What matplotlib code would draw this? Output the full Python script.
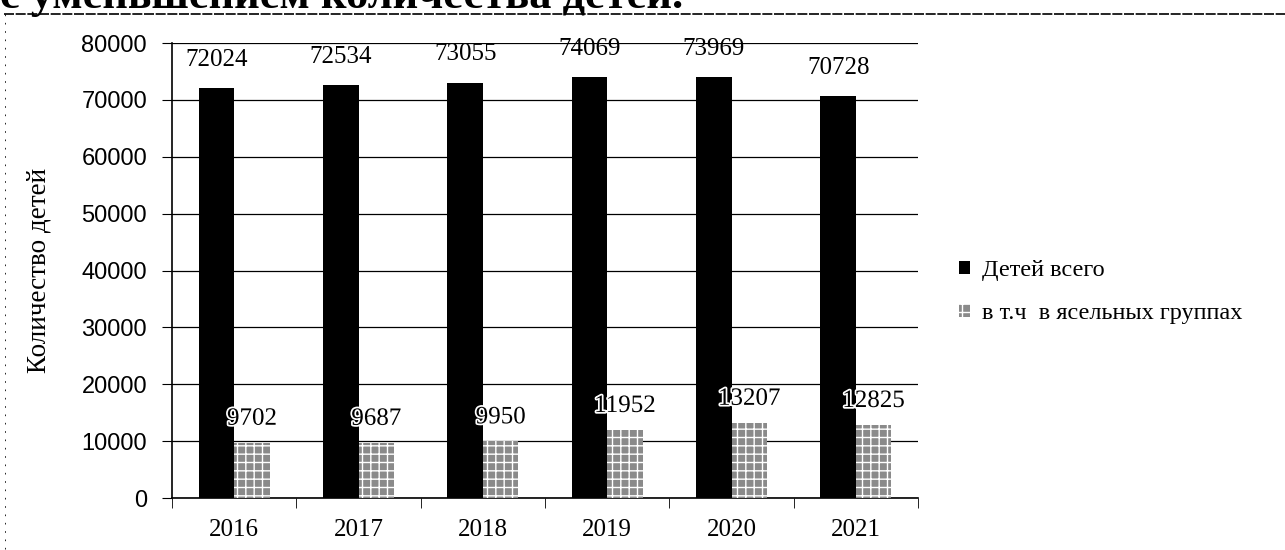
import numpy as np
import matplotlib
matplotlib.use("Agg")
import matplotlib.pyplot as plt
import matplotlib.patheffects as pe
from matplotlib.lines import Line2D

years = ["2016", "2017", "2018", "2019", "2020", "2021"]
total_children = [72024, 72534, 73055, 74069, 73969, 70728]
nursery_children = [9702, 9687, 9950, 11952, 13207, 12825]
series_names = ["Детей всего", "в т.ч  в ясельных группах"]

plt.rcParams["font.family"] = ["Liberation Serif", "DejaVu Serif"]
plt.rcParams["hatch.linewidth"] = 1.0

fig = plt.figure(figsize=(12.85, 5.5), dpi=100)
ax = fig.add_axes([0.1339, 0.0945, 0.5805, 0.8273])

x = np.arange(len(years))
w = 0.285

dark = ax.bar(x - w / 2, total_children, w, color="black", edgecolor="black",
              linewidth=0, zorder=3, label=series_names[0])
light = ax.bar(x + w / 2, nursery_children, w, color="#8a8a8a", edgecolor="white",
               hatch="++", linewidth=0, zorder=3, label=series_names[1])

halo = [pe.withStroke(linewidth=2.5, foreground="white")]
for xi, v in zip(x, total_children):
    ax.text(xi - w / 2, v + 3000, str(v), ha="center", va="bottom", fontsize=18)
for xi, v in zip(x, nursery_children):
    ax.text(xi + w / 2, v + 2300, str(v), ha="center", va="bottom", fontsize=18,
            path_effects=halo, zorder=4)

ax.set_xlim(-0.5, len(years) - 0.5)
ax.set_ylim(0, 80000)
ax.set_yticks(np.arange(0, 80001, 10000))
ax.set_xticks(x)
ax.set_xticklabels(years, fontsize=18)
ax.set_xticks(np.arange(-0.5, len(years)), minor=True)
ax.tick_params(axis="x", which="major", length=0, pad=15)
ax.tick_params(axis="x", which="minor", length=7, direction="out")
for lbl in ax.get_yticklabels():
    lbl.set_family(["Liberation Sans", "DejaVu Sans"])
ax.tick_params(axis="y", labelsize=17, length=7, direction="out", pad=11)
ax.yaxis.grid(True, color="black", linewidth=0.9, zorder=0)
ax.set_axisbelow(True)
for s in ["top", "right"]:
    ax.spines[s].set_visible(False)
ax.spines["left"].set_linewidth(1.2)
ax.spines["bottom"].set_linewidth(1.2)
ax.set_ylabel("Количество детей", fontsize=19.5)
ax.yaxis.set_label_coords(-0.162, 0.5)

fig.legend(handles=[dark, light], labels=series_names, loc="upper left",
           bbox_to_anchor=(0.729, 0.567), frameon=False, fontsize=17.5,
           handlelength=0.45, handleheight=0.45, handletextpad=0.5, labelspacing=0.9)

# cropped heading text and page border from the scan
fig.text(0.0, 1.0 - 8 / 550, "с уменьшением количества детей.", fontsize=32,
         fontweight="bold", ha="left", va="baseline")
fig.add_artist(Line2D([0.003, 1.0], [1 - 14 / 550] * 2, color="black",
                      linewidth=1.2, linestyle=(0, (6, 1))))
fig.add_artist(Line2D([0.004, 0.004], [1 - 14 / 550, 0.0], color="black",
                      linewidth=0.6, linestyle=(0, (2, 8))))

fig.savefig("out.png", dpi=100)
